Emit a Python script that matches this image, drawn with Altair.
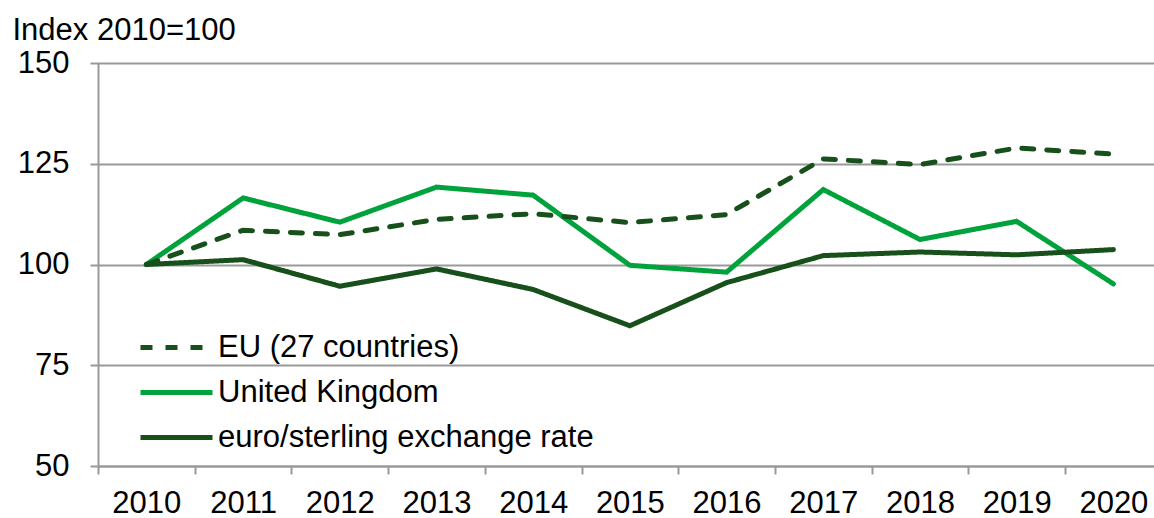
import altair as alt
import pandas as pd

# Index series, 2010 = 100
years = list(range(2010, 2021))
uk = [100, 116.5, 110.5, 119.2, 117.2, 99.8, 98.1, 118.6, 106.2, 110.7, 95.2]
eu27 = [100, 108.5, 107.4, 111.2, 112.6, 110.4, 112.4, 126.2, 124.8, 128.9, 127.4]
fx_rate = [100, 101.2, 94.6, 98.9, 93.8, 84.8, 95.5, 102.2, 103.1, 102.4, 103.7]

series_names = ["EU (27 countries)", "United Kingdom", "euro/sterling exchange rate"]
series_colors = ["#17501a", "#00a33b", "#17501a"]
series_dash = [[12, 13], [1, 0], [1, 0]]

y_ticks = [50, 75, 100, 125, 150]

# UK rows first so the green line sits beneath the dark ones
rows = []
for name, vals in [(series_names[1], uk), (series_names[0], eu27), (series_names[2], fx_rate)]:
    for yr, v in zip(years, vals):
        rows.append({"year": yr, "index": v, "series": name})
df = pd.DataFrame(rows)

FONT = "Liberation Sans"
FS = 31
BAND = 96.7

chart = (
    alt.Chart(df)
    .mark_line(strokeWidth=5, strokeCap="round", clip=False)
    .encode(
        x=alt.X(
            "year:Q",
            scale=alt.Scale(domain=[2009.5, 2020.42], nice=False, zero=False),
            axis=alt.Axis(
                title=None,
                values=years,
                format="d",
                grid=False,
                tickSize=8,
                tickOffset=-BAND / 2,
                labelOffset=BAND / 2,
                labelPadding=14,
                labelFontSize=FS,
                labelFont=FONT,
                labelColor="#000000",
                domainColor="#999999",
                domainWidth=2,
                tickColor="#999999",
                tickWidth=2,
                labelFlush=False,
                labelOverlap=False,
            ),
        ),
        y=alt.Y(
            "index:Q",
            scale=alt.Scale(domain=[50, 150], nice=False, zero=False),
            axis=alt.Axis(
                title="Index 2010=100",
                titleAngle=0,
                titleAlign="left",
                titleBaseline="alphabetic",
                titleX=-86,
                titleY=-24,
                titleFont=FONT,
                titleFontSize=FS,
                titleFontWeight="normal",
                titleColor="#000000",
                values=y_ticks,
                tickSize=8,
                labelPadding=21,
                labelFontSize=FS,
                labelFont=FONT,
                labelColor="#000000",
                domainColor="#999999",
                domainWidth=2,
                tickColor="#999999",
                tickWidth=2,
                gridColor="#999999",
                gridWidth=2,
                labelFlush=False,
            ),
        ),
        color=alt.Color(
            "series:N",
            scale=alt.Scale(domain=series_names, range=series_colors),
            legend=alt.Legend(
                title=None,
                orient="none",
                legendX=63,
                legendY=269,
                symbolType="M-3,0H3",
                symbolSize=576,
                symbolStrokeWidth=5,
                labelFontSize=FS,
                labelFont=FONT,
                labelColor="#000000",
                labelLimit=0,
                labelOffset=26,
                rowPadding=13,
                padding=0,
            ),
        ),
        strokeDash=alt.StrokeDash(
            "series:N",
            scale=alt.Scale(domain=series_names, range=series_dash),
            legend=None,
        ),
    )
    .properties(
        width=1056,
        height=403,
        autosize=alt.AutoSizeParams(type="none"),
        padding={"left": 98, "top": 63, "right": 0, "bottom": 52},
    )
    .configure_view(stroke=None)
    .configure(background="#ffffff")
)

chart.save("out.html", embed_options={"renderer": "svg", "actions": False})
